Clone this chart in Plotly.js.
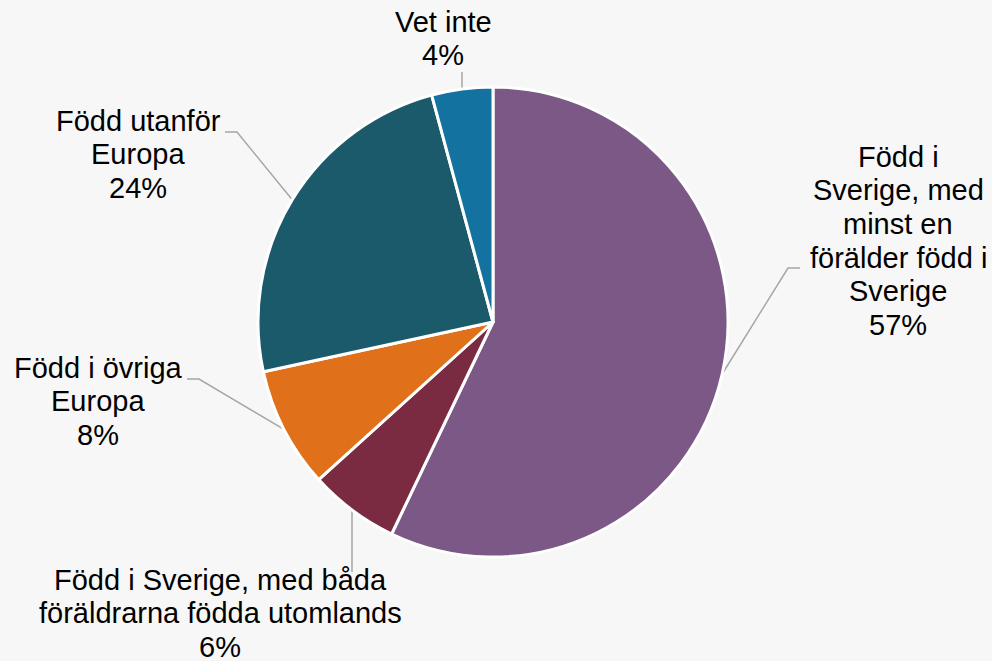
<!DOCTYPE html>
<html>
<head>
<meta charset="utf-8">
<script src="https://cdn.plot.ly/plotly-3.0.1.min.js"></script>
<style>
html,body{margin:0;padding:0;background:#f7f7f7;}
#chart{width:992px;height:661px;}
</style>
</head>
<body>
<div id="chart"></div>
<script>
// Data
const categories = [
  "Född i Sverige, med minst en förälder född i Sverige",
  "Född i Sverige, med båda föräldrarna födda utomlands",
  "Född i övriga Europa",
  "Född utanför Europa",
  "Vet inte"
];
const values = [57.1, 6.2, 8.3, 24.2, 4.2];
const labelLines = [
  ["Född i", "Sverige, med", "minst en", "förälder född i", "Sverige"],
  ["Född i Sverige, med båda", "föräldrarna födda utomlands"],
  ["Född i övriga", "Europa"],
  ["Född utanför", "Europa"],
  ["Vet inte"]
];
const colors = ["#7c5887", "#7a2a41", "#e07019", "#1b5a6a", "#13729f"];

// Layout geometry (pixels)
const W = 992, H = 661;
const cx = 493, cy = 322, R = 235;
const lineH = 33.6, fs = 29;
// label center x, first baseline y
const labelPos = [
  [898, 167],
  [220, 590],
  [98, 378],
  [138, 131],
  [443, 32]
];
// leader line: label-side points (pixels)
const leaderStart = [
  [[800, 268], [788, 268]],
  [[352, 572]],
  [[187, 379], [199, 379]],
  [[225, 132], [237, 132]],
  [[462, 72]]
];

const px = x => x / W;
const py = y => (H - y) / H;

const total = values.reduce((a, b) => a + b, 0);
const annotations = [];
const shapes = [];
let cum = 0;
values.forEach((v, i) => {
  const mid = (cum + v / 2) / total * 2 * Math.PI;
  cum += v;
  const pct = Math.round(v / total * 100) + "%";
  const lines = labelLines[i].concat([pct]);
  lines.forEach((t, j) => {
    const base = labelPos[i][1] + j * lineH;
    annotations.push({
      text: t, showarrow: false, xref: "paper", yref: "paper",
      x: px(labelPos[i][0]), y: py(base - 10.2),
      xanchor: "center", yanchor: "middle",
      font: {family: "Liberation Sans, Arial, sans-serif", size: fs, color: "#000000"}
    });
  });
  let ex = cx + R * Math.sin(mid), ey = cy - R * Math.cos(mid);
  if (i === 1) { ex = leaderStart[i][0][0]; ey = cy - R * Math.cos(mid) + 0; }
  if (i === 4) { ex = leaderStart[i][0][0]; ey = 88; }
  const pts = leaderStart[i].concat([[ex, ey]]);
  if (i === 1) pts[pts.length - 1] = [352, 510];
  const path = pts.map((p, k) => (k ? "L" : "M") + px(p[0]) + "," + py(p[1])).join(" ");
  shapes.push({type: "path", xref: "paper", yref: "paper", path: path,
    line: {color: "#a6a6a6", width: 1.5}, layer: "below"});
});

const trace = {
  type: "pie",
  labels: categories,
  values: values,
  sort: false,
  direction: "clockwise",
  rotation: 0,
  textinfo: "none",
  hoverinfo: "label+percent",
  marker: {colors: colors, line: {color: "#ffffff", width: 3}},
  domain: {x: [px(cx - R), px(cx + R)], y: [py(cy + R), py(cy - R)]},
  showlegend: false
};

const layout = {
  width: W, height: H,
  margin: {l: 0, r: 0, t: 0, b: 0},
  paper_bgcolor: "#f7f7f7",
  plot_bgcolor: "#f7f7f7",
  showlegend: false,
  annotations: annotations,
  shapes: shapes
};

Plotly.newPlot("chart", [trace], layout, {displayModeBar: false, staticPlot: true});
</script>
</body>
</html>
